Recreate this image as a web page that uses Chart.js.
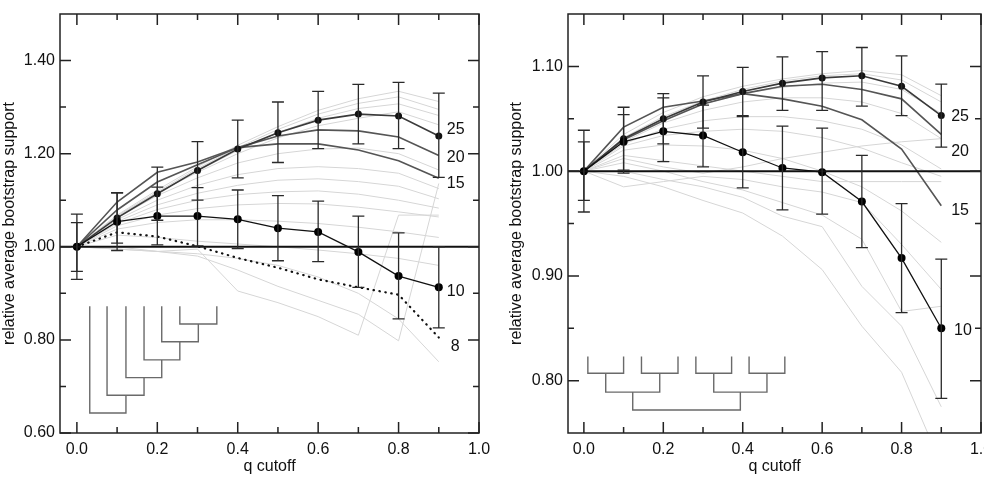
<!DOCTYPE html>
<html>
<head>
<meta charset="utf-8">
<script src="https://cdn.jsdelivr.net/npm/chart.js@4.4.1/dist/chart.umd.min.js"></script>
<style>
  html, body { margin: 0; padding: 0; background: #fff; overflow: hidden; }
  body { width: 984px; height: 478px; position: relative; }
  canvas { position: absolute; top: 0; }
  #leftChart { left: 0; }
  #rightChart { left: 507px; }
</style>
</head>
<body>
<canvas id="leftChart" width="496" height="478"></canvas>
<canvas id="rightChart" width="478" height="478"></canvas>
<script>
// q cutoff values shared by every curve
const qValues = [0, 0.1, 0.2, 0.3, 0.4, 0.5, 0.6, 0.7, 0.8, 0.9];
const xMajor = [0, 0.2, 0.4, 0.6, 0.8, 1.0];
const xMinor = [0.1, 0.3, 0.5, 0.7, 0.9];

// ---- left panel (caterpillar tree) ----
const leftYMajor = [0.6, 0.8, 1.0, 1.2, 1.4];
const leftYMinor = [0.7, 0.9, 1.1, 1.3];
const leftN25 = [1.000, 1.062, 1.114, 1.164, 1.210, 1.245, 1.272, 1.285, 1.281, 1.238];
const leftN25Lo = [0.930, 1.008, 1.057, 1.100, 1.148, 1.181, 1.211, 1.221, 1.211, 1.149];
const leftN25Hi = [1.070, 1.116, 1.171, 1.226, 1.272, 1.311, 1.334, 1.349, 1.353, 1.330];
const leftN20 = [1.000, 1.079, 1.139, 1.176, 1.213, 1.238, 1.251, 1.249, 1.236, 1.196];
const leftN15 = [1.000, 1.096, 1.160, 1.182, 1.213, 1.221, 1.221, 1.208, 1.185, 1.147];
const leftN10 = [1.000, 1.054, 1.066, 1.066, 1.059, 1.040, 1.032, 0.989, 0.937, 0.913];
const leftN10Lo = [0.947, 0.992, 1.004, 1.002, 0.996, 0.970, 0.968, 0.913, 0.845, 0.826];
const leftN10Hi = [1.052, 1.116, 1.128, 1.127, 1.122, 1.110, 1.098, 1.066, 1.030, 1.000];
const leftN8 = [1.000, 1.031, 1.022, 1.001, 0.976, 0.955, 0.930, 0.913, 0.897, 0.805];
const leftOther = [
  [1, 1.068, 1.122, 1.172, 1.218, 1.258, 1.293, 1.318, 1.334, 1.312],
  [1, 1.066, 1.118, 1.168, 1.213, 1.252, 1.285, 1.308, 1.322, 1.295],
  [1, 1.064, 1.115, 1.163, 1.207, 1.245, 1.276, 1.297, 1.307, 1.282],
  [1, 1.066, 1.116, 1.160, 1.200, 1.234, 1.260, 1.276, 1.290, 1.262],
  [1, 1.062, 1.110, 1.148, 1.180, 1.200, 1.210, 1.212, 1.200, 1.165],
  [1, 1.058, 1.100, 1.132, 1.155, 1.168, 1.172, 1.168, 1.158, 1.125],
  [1, 1.054, 1.090, 1.115, 1.132, 1.143, 1.146, 1.140, 1.130, 1.103],
  [1, 1.050, 1.080, 1.100, 1.112, 1.118, 1.120, 1.113, 1.100, 1.083],
  [1, 1.045, 1.068, 1.082, 1.090, 1.093, 1.092, 1.085, 1.075, 1.064],
  [1, 1.038, 1.052, 1.058, 1.058, 1.055, 1.050, 1.042, 1.032, 1.020],
  [1, 1.025, 1.020, 1.012, 1.006, 1.000, 0.993, 0.985, 0.975, 0.960],
  [1, 0.995, 0.990, 0.995, 0.905, 0.880, 0.850, 0.810, 1.068, 1.068],
  [1, 1.000, 0.990, 0.980, 0.950, 0.915, 0.885, 0.855, 0.798, 1.136],
  [1, 0.995, 0.990, 0.985, 0.975, 0.960, 0.935, 0.900, 0.845, 0.753]
];
// brackets: [xa, ya, xb, yb, yJoin]
const leftTree = [
  [0.256, 0.872, 0.348, 0.872, 0.834],
  [0.211, 0.872, 0.302, 0.834, 0.796],
  [0.167, 0.872, 0.256, 0.796, 0.757],
  [0.122, 0.872, 0.211, 0.757, 0.719],
  [0.075, 0.872, 0.167, 0.719, 0.681],
  [0.032, 0.872, 0.122, 0.681, 0.643]
];
const leftLabels = ['25', '20', '15', '10', '8'];
const leftLabelQ = [0.92, 0.92, 0.92, 0.92, 0.93];
const leftLabelY = [1.251, 1.191, 1.136, 0.904, 0.785];

// ---- right panel (balanced tree) ----
const rightYMajor = [0.8, 0.9, 1.0, 1.1];
const rightYMinor = [0.85, 0.95, 1.05];
const rightN25 = [1.000, 1.031, 1.050, 1.066, 1.076, 1.084, 1.089, 1.091, 1.081, 1.053];
const rightN25Lo = [0.961, 1.001, 1.026, 1.041, 1.053, 1.058, 1.058, 1.062, 1.053, 1.023];
const rightN25Hi = [1.039, 1.061, 1.074, 1.091, 1.099, 1.109, 1.114, 1.118, 1.110, 1.083];
const rightN20 = [1.000, 1.030, 1.048, 1.064, 1.074, 1.081, 1.083, 1.078, 1.069, 1.035];
const rightN15 = [1.000, 1.042, 1.061, 1.067, 1.074, 1.069, 1.062, 1.049, 1.021, 0.967];
const rightN10 = [1.000, 1.028, 1.038, 1.034, 1.018, 1.003, 0.999, 0.971, 0.917, 0.850];
const rightN10Lo = [0.972, 0.998, 1.009, 1.004, 0.984, 0.963, 0.959, 0.927, 0.865, 0.783];
const rightN10Hi = [1.028, 1.054, 1.070, 1.063, 1.052, 1.043, 1.041, 1.015, 0.969, 0.916];
const rightOther = [
  [1, 1.035, 1.056, 1.071, 1.081, 1.088, 1.093, 1.096, 1.092, 1.072],
  [1, 1.032, 1.052, 1.067, 1.078, 1.086, 1.091, 1.093, 1.087, 1.066],
  [1, 1.030, 1.050, 1.064, 1.074, 1.080, 1.084, 1.085, 1.078, 1.055],
  [1, 1.028, 1.046, 1.058, 1.066, 1.070, 1.070, 1.066, 1.055, 1.031],
  [1, 1.026, 1.040, 1.048, 1.052, 1.052, 1.048, 1.040, 1.025, 1.002],
  [1, 1.024, 1.034, 1.038, 1.040, 1.038, 1.032, 1.022, 1.008, 0.995],
  [1, 1.020, 1.025, 1.024, 1.020, 1.012, 1.000, 0.985, 0.962, 0.932],
  [1, 1.012, 1.004, 0.998, 1.004, 1.012, 1.018, 1.024, 1.028, 1.031],
  [1, 0.985, 0.990, 0.995, 0.992, 0.985, 0.980, 0.970, 0.930, 0.887],
  [1, 1.008, 1.000, 0.990, 0.982, 0.970, 0.958, 0.935, 0.866, 0.871],
  [1, 1.000, 0.992, 0.985, 0.975, 0.957, 0.947, 0.890, 0.852, 0.775],
  [1, 0.995, 0.985, 0.972, 0.960, 0.938, 0.906, 0.852, 0.808, 0.720],
  [1, 1.015, 1.010, 1.005, 1.000, 0.995, 0.990, 0.990, 0.990, 0.990]
];
const rightTree = [
  [0.010, 0.823, 0.100, 0.823, 0.807],
  [0.145, 0.823, 0.237, 0.823, 0.807],
  [0.282, 0.823, 0.372, 0.823, 0.807],
  [0.416, 0.823, 0.506, 0.823, 0.807],
  [0.055, 0.807, 0.191, 0.807, 0.789],
  [0.327, 0.807, 0.461, 0.807, 0.789],
  [0.123, 0.789, 0.394, 0.789, 0.772]
];
const rightLabels = ['25', '20', '15', '10'];
const rightLabelQ = [0.925, 0.925, 0.925, 0.932];
const rightLabelY = [1.052, 1.019, 0.962, 0.848];

Chart.defaults.font.family = '"Liberation Sans", Arial, Helvetica, sans-serif';
Chart.defaults.color = '#111';

const pts = ys => ys.map((y, i) => ({x: qValues[i], y: y}));

function treePoints(tree) {
  const out = [];
  tree.forEach(b => {
    out.push({x: b[0], y: b[1]}, {x: b[0], y: b[4]}, {x: b[2], y: b[4]}, {x: b[2], y: b[3]}, {x: b[2], y: null});
  });
  return out;
}

function makeDecor(p) {
  return {
    id: 'decor',
    afterDatasetsDraw(chart) {
      const ctx = chart.ctx, a = chart.chartArea, x = chart.scales.x, y = chart.scales.y;
      ctx.save();
      // reference line at 1.00
      const y1 = y.getPixelForValue(1);
      ctx.strokeStyle = '#111';
      ctx.lineWidth = 2;
      ctx.beginPath(); ctx.moveTo(a.left, y1); ctx.lineTo(a.right, y1); ctx.stroke();

      // error bars
      ctx.strokeStyle = '#2a2a2a';
      ctx.lineWidth = 1.3;
      p.errors.forEach(e => {
        qValues.forEach((q, i) => {
          const px = x.getPixelForValue(q);
          const top = y.getPixelForValue(e.hi[i]);
          const bot = y.getPixelForValue(e.lo[i]);
          ctx.beginPath();
          ctx.moveTo(px, top); ctx.lineTo(px, bot);
          ctx.moveTo(px - 6, top); ctx.lineTo(px + 6, top);
          ctx.moveTo(px - 6, bot); ctx.lineTo(px + 6, bot);
          ctx.stroke();
        });
      });

      // frame and inward ticks
      ctx.strokeStyle = '#222';
      ctx.lineWidth = 1.5;
      ctx.strokeRect(a.left, a.top, a.right - a.left, a.bottom - a.top);
      ctx.beginPath();
      const xt = (vals, len) => vals.forEach(v => {
        const px = x.getPixelForValue(v);
        ctx.moveTo(px, a.bottom); ctx.lineTo(px, a.bottom - len);
        ctx.moveTo(px, a.top); ctx.lineTo(px, a.top + len);
      });
      const yt = (vals, len) => vals.forEach(v => {
        const py = y.getPixelForValue(v);
        ctx.moveTo(a.left, py); ctx.lineTo(a.left + len, py);
        ctx.moveTo(a.right, py); ctx.lineTo(a.right - len, py);
      });
      xt(xMajor, 11); xt(xMinor, 6);
      yt(p.yMajor, 11); yt(p.yMinor, 6);
      ctx.stroke();

      // curve labels
      ctx.fillStyle = '#111';
      ctx.font = '16px "Liberation Sans", Arial, sans-serif';
      ctx.textAlign = 'left';
      ctx.textBaseline = 'middle';
      p.labels.forEach((t, i) => {
        ctx.fillText(t, x.getPixelForValue(p.labelQ[i]), y.getPixelForValue(p.labelY[i]));
      });
      ctx.restore();
    }
  };
}

function buildPanel(id, p) {
  const datasets = [];
  p.others.forEach(ys => datasets.push({
    data: pts(ys), borderColor: '#d6d6d6', borderWidth: 1, pointRadius: 0, order: 10
  }));
  datasets.push({data: treePoints(p.tree), borderColor: '#6a6a6a', borderWidth: 1.4, pointRadius: 0, spanGaps: false, order: 9});
  datasets.push({data: pts(p.n15), borderColor: '#555', borderWidth: 1.6, pointRadius: 0, order: 5});
  datasets.push({data: pts(p.n20), borderColor: '#555', borderWidth: 1.6, pointRadius: 0, order: 4});
  if (p.n8) {
    datasets.push({data: pts(p.n8), borderColor: '#111', borderWidth: 2.2, borderDash: [0.5, 5.5],
      borderCapStyle: 'round', pointRadius: 0, order: 3});
  }
  datasets.push({data: pts(p.n25), borderColor: '#3a3a3a', borderWidth: 1.6, pointRadius: 3.5,
    pointBackgroundColor: '#111', pointBorderWidth: 0, order: 2});
  datasets.push({data: pts(p.n10), borderColor: '#111', borderWidth: 1.3, pointRadius: 4,
    pointBackgroundColor: '#000', pointBorderWidth: 0, order: 1});

  const tickFont = {size: 16};
  return new Chart(document.getElementById(id), {
    type: 'line',
    data: {datasets: datasets},
    options: {
      responsive: false,
      animation: false,
      events: [],
      layout: {padding: {left: 0, top: 14, right: p.padRight, bottom: 0}},
      elements: {line: {tension: 0}},
      plugins: {legend: {display: false}, tooltip: {enabled: false}},
      scales: {
        x: {
          type: 'linear', min: p.xMin, max: 1.0,
          grid: {display: false, drawTicks: false},
          border: {display: false},
          afterBuildTicks: s => { s.ticks = xMajor.map(v => ({value: v})); },
          afterFit: s => { s.height = 45; s.paddingLeft = 0; s.paddingRight = 0; },
          ticks: {padding: 7, font: tickFont, maxRotation: 0, autoSkip: false, callback: v => v.toFixed(1)},
          title: {display: true, text: 'q cutoff', font: {size: 16}, padding: {top: 0, bottom: 2}}
        },
        y: {
          type: 'linear', min: p.yMin, max: p.yMax,
          grid: {display: false, drawTicks: false},
          border: {display: false},
          afterBuildTicks: s => { s.ticks = p.yMajor.map(v => ({value: v})); },
          afterFit: s => { s.width = p.yWidth; s.paddingTop = 0; s.paddingBottom = 0; },
          ticks: {padding: 5, font: tickFont, autoSkip: false, callback: v => v.toFixed(2)},
          title: {display: true, text: 'relative average bootstrap support', font: {size: 16}, padding: {top: 0, bottom: 0}}
        }
      }
    },
    plugins: [makeDecor(p)]
  });
}

buildPanel('leftChart', {
  xMin: -0.042, yMin: 0.6, yMax: 1.5, yWidth: 60, padRight: 17,
  yMajor: leftYMajor, yMinor: leftYMinor,
  n25: leftN25, n20: leftN20, n15: leftN15, n10: leftN10, n8: leftN8,
  others: leftOther, tree: leftTree,
  errors: [{lo: leftN25Lo, hi: leftN25Hi}, {lo: leftN10Lo, hi: leftN10Hi}],
  labels: leftLabels, labelQ: leftLabelQ, labelY: leftLabelY
});

buildPanel('rightChart', {
  xMin: -0.04, yMin: 0.75, yMax: 1.15, yWidth: 61, padRight: 0,
  yMajor: rightYMajor, yMinor: rightYMinor,
  n25: rightN25, n20: rightN20, n15: rightN15, n10: rightN10, n8: null,
  others: rightOther, tree: rightTree,
  errors: [{lo: rightN25Lo, hi: rightN25Hi}, {lo: rightN10Lo, hi: rightN10Hi}],
  labels: rightLabels, labelQ: rightLabelQ, labelY: rightLabelY
});
</script>
</body>
</html>
